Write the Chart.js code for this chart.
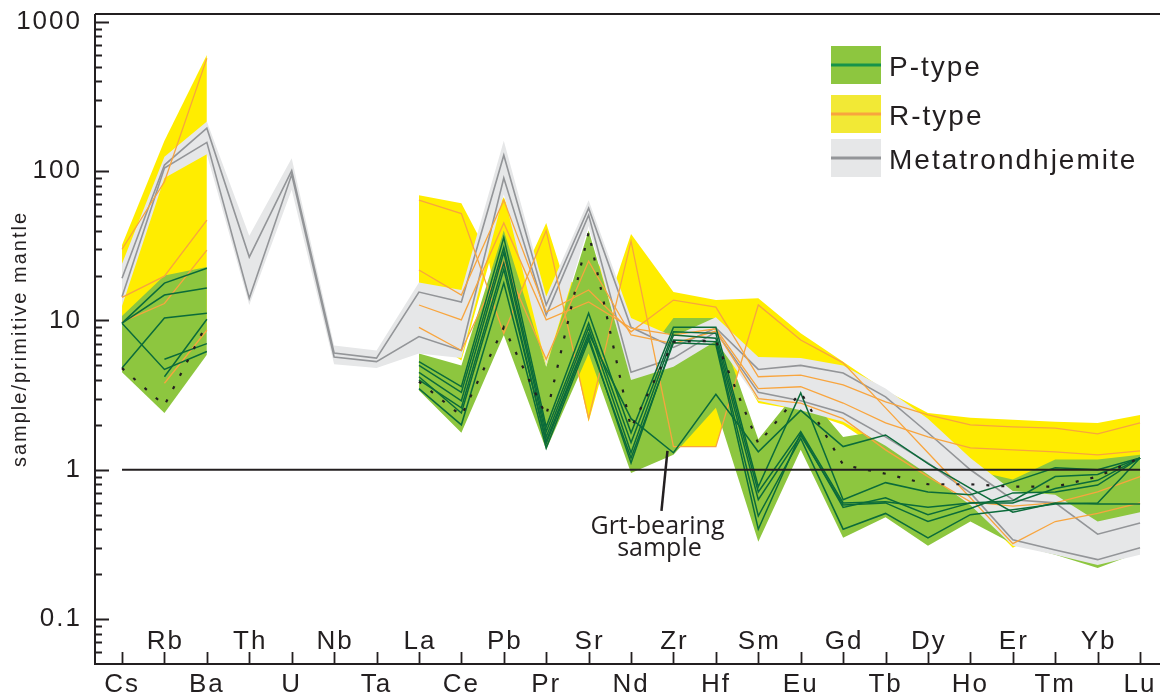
<!DOCTYPE html>
<html>
<head>
<meta charset="utf-8">
<script src="https://cdn.jsdelivr.net/npm/chart.js@4.4.1/dist/chart.umd.min.js"></script>
<style>
  html, body { margin: 0; padding: 0; background: #ffffff; }
  #wrap { width: 1160px; height: 696px; position: relative; }
</style>
</head>
<body>
<div id="wrap"><canvas id="spider" width="1160" height="696"></canvas></div>
<script>
// Element order along the x axis (primitive-mantle normalised spider diagram)
const elements = ['Cs','Rb','Ba','Th','U','Nb','Ta','La','Ce','Pb','Pr','Sr','Nd','Zr','Hf','Sm','Eu','Gd','Tb','Dy','Ho','Er','Tm','Yb','Lu'];
const yTickLabels = [0.1, 1, 10, 100, 1000];
const n = null;

// ---- P-type samples ----
const pType1 = [9.6,17.8,22.4,n,n,n,n, 5.3,3.6,36,1.94,11.2,1.77,9.0,9.0,0.77,3.27,0.63,0.82,0.71,0.68,0.83,1.03,1.0,1.2];
const pType2 = [9.6,14.8,16.5,n,n,n,n, 5.0,3.3,31,1.8,9.6,1.52,8.4,8.2,0.71,1.8,0.6,0.61,0.56,0.6,0.62,0.9,0.93,1.2];
const pType3 = [4.8,10.4,11.2,n,n,n,n, 4.5,2.9,28.6,1.66,8.9,1.3,8.0,7.6,0.63,1.7,0.58,0.6,0.45,0.55,0.7,0.71,0.79,1.2];
const pType4 = [9.6,4.7,6.2,n,n,n,n, 4.0,2.6,24.3,1.5,7.8,1.11,7.4,7.2,0.49,1.62,0.4,0.51,0.35,0.5,0.54,0.59,0.6,1.2];
const pType5 = [n,5.5,7.0,n,n,n,n, 3.5,2.0,17.8,1.4,7.4,1.2,7.1,6.9,0.4,1.75,0.56,0.65,0.5,0.6,0.6,0.75,0.85,1.2];
const pTypeGrt = [n,4.2,10.2,n,n,n,n, 4.2,2.4,22,1.55,8.2,2.2,1.3,3.2,1.32,2.5,1.43,1.71,1.1,0.75,0.52,0.6,0.59,0.59];
const pTypeDotted = [4.8,2.7,9.5,n,n,n,n, 3.9,2.3,9.0,2.3,39,1.9,7.2,7.3,1.5,3.3,1.08,0.94,0.8,0.8,0.77,0.77,0.9,1.2];
const pTypeUpper = [10.7,20,22.8,n,n,n,n, 6.0,5.0,40,4.9,40,4.3,10.4,10.4,1.6,3.6,1.66,1.85,1.36,1.0,0.86,1.17,1.17,1.26];
const pTypeLower = [4.5,2.4,5.9,n,n,n,n, 3.4,1.77,8.0,1.36,6.0,0.95,1.26,2.6,0.33,1.36,0.35,0.48,0.31,0.45,0.32,0.27,0.22,0.28];

// ---- R-type samples ----
const rType1 = [30,85,570,n,n,n,n, 64,52,8.2,40,2.2,34,1.43,1.43,12.7,7.4,5.2,2.6,1.3,0.65,0.32,0.45,0.51,0.6];
const rType2 = [14.3,19.8,47,n,n,n,n, 21.8,14.8,64,11.4,16,8.4,13.7,12.3,4.2,4.3,3.7,2.85,2.33,2.0,1.94,1.9,1.74,2.06];
const rType3 = [9.8,13,29.6,n,n,n,n, 12.7,10.1,45,10.1,13.3,8.9,8.0,8.8,3.5,3.6,2.8,2.06,1.66,1.4,1.36,1.32,1.26,1.34];
const rType4 = [n,3.8,8.6,n,n,n,n, 9,6.3,25,5.5,25,8,7,8.5,3.0,2.8,2.2,1.36,0.9,0.61,0.57,0.6,0.71,0.9];
const rTypeUpper = [32,160,600,n,n,n,n, 69,61,67,45,28,38,15.5,13.7,14.1,8.2,5.3,3.4,2.4,2.23,2.16,2.1,2.06,2.33];
const rTypeLower = [9.5,3.7,8.5,n,n,n,n, 8.5,5.4,7.8,5.0,2.1,7.5,1.43,1.43,2.8,2.5,2.0,1.3,0.85,0.58,0.3,0.42,0.48,0.57];
// envelope corners between elements, where crossing R-type patterns pinch the field: [position, value]
const rTypeUpperNotches = [[8.38,38],[9.62,26],[10.39,20],[10.62,18],[11.62,18]];
const rTypeLowerNotches = [[8.655,24.4],[9.36,14.6],[10.45,10.9],[11.57,8],[14.55,4.77]];

// ---- Metatrondhjemite ----
const meta1 = [19.2,110,194,26.6,101,6.06,5.6,15.5,13.3,128,12.7,56.5,9.0,6.6,8.9,4.7,5.0,4.45,3.08,1.77,1.0,0.63,0.60,0.37,0.44];
const meta2 = [14.4,105,156,14.1,95,5.7,5.3,7.8,6.3,90,10.9,50.8,4.5,5.6,8.4,3.3,2.9,2.4,1.66,1.11,0.70,0.34,0.29,0.25,0.30];
const metaUpper = [24,125,215,37,122,6.8,6.3,18,16,160,14.5,64,10.4,7.8,10.5,5.7,5.6,5.0,3.5,2.2,1.2,0.72,0.68,0.45,0.52];
const metaLower = [12.5,90,130,12.7,75,5.1,4.8,6.0,5.6,70,5.0,43,4.0,4.9,7.3,2.9,2.5,2.1,1.45,0.93,0.58,0.31,0.27,0.23,0.27];

// sample = primitive mantle
const unity = [1,1,1,1,1,1,1,1,1,1,1,1,1,1,1,1,1,1,1,1,1,1,1,1,1];

const COLORS = {
  pFill: '#8DC63F', pLine: '#0B6B3A', pLegendLine: '#16934A',
  rFill: '#FFED00', rLegendFill: '#F2E935', rLine: '#F8A53E',
  mFill: '#E6E7E8', mLine: '#939598',
  ink: '#231F20'
};

const toPoints = (arr, extra) => {
  const pts = arr.map((v, i) => ({ x: i, y: v }));
  (extra || []).forEach(([x, v]) => pts.push({ x: x, y: v }));
  return pts.sort((a, b) => a.x - b.x);
};

const datasets = [];
function addBand(lower, upper, color, order, lowerExtra, upperExtra) {
  const lowerIndex = datasets.length;
  datasets.push({ data: toPoints(lower, lowerExtra), borderColor: 'rgba(0,0,0,0)', borderWidth: 0,
    pointRadius: 0, fill: false, order: order, tension: 0 });
  datasets.push({ data: toPoints(upper, upperExtra), borderColor: 'rgba(0,0,0,0)', borderWidth: 0,
    pointRadius: 0, fill: lowerIndex, backgroundColor: color, order: order, tension: 0 });
}
function addLine(arr, color, width, order, dash) {
  datasets.push({ data: toPoints(arr), borderColor: color, borderWidth: width,
    pointRadius: 0, fill: false, order: order, tension: 0,
    borderDash: dash || [], borderCapStyle: 'butt', borderJoinStyle: 'miter' });
}

addBand(rTypeLower, rTypeUpper, COLORS.rFill, 30, rTypeLowerNotches, rTypeUpperNotches);
addBand(pTypeLower, pTypeUpper, COLORS.pFill, 20);
addBand(metaLower, metaUpper, COLORS.mFill, 10);

[meta1, meta2].forEach(s => addLine(s, COLORS.mLine, 1.6, 6));
[rType1, rType2, rType3, rType4].forEach(s => addLine(s, COLORS.rLine, 1.3, 5));
[pType1, pType2, pType3, pType4, pType5, pTypeGrt].forEach(s => addLine(s, COLORS.pLine, 1.5, 4));
addLine(pTypeDotted, COLORS.ink, 2.2, 3, [3, 12]);
addLine(unity, COLORS.ink, 2, 1);

// minor + major tick positions for the log axis
const yTickValues = [];
for (let d = -2; d <= 3; d++) {
  for (let m = 1; m <= 9; m++) {
    const v = parseFloat((m * Math.pow(10, d)).toPrecision(3));
    if (v >= 0.055 && v <= 1000) yTickValues.push(v);
  }
}

const FONT = "'Liberation Sans', Arial, Helvetica, sans-serif";
Chart.defaults.font.family = FONT;
Chart.defaults.color = COLORS.ink;

const framePlugin = {
  id: 'frame',
  beforeDraw(chart) {
    chart.ctx.letterSpacing = '2px';
  },
  afterDraw(chart) {
    const { ctx, chartArea: a, scales: { x, y } } = chart;
    ctx.save();
    ctx.strokeStyle = COLORS.ink;
    ctx.lineWidth = 2;
    ctx.beginPath();
    ctx.moveTo(a.left, a.top); ctx.lineTo(a.right, a.top);
    ctx.moveTo(a.left, a.top); ctx.lineTo(a.left, a.bottom);
    ctx.moveTo(a.left - 1, a.bottom); ctx.lineTo(a.right, a.bottom);
    ctx.stroke();
    // inward tick marks
    ctx.lineWidth = 1.8;
    ctx.beginPath();
    yTickValues.forEach(v => {
      const py = Math.round(y.getPixelForValue(v)) + 0.5;
      const len = yTickLabels.includes(v) ? 14 : 7;
      ctx.moveTo(a.left, py); ctx.lineTo(a.left + len, py);
    });
    elements.forEach((_, i) => {
      const px = Math.round(x.getPixelForValue(i)) + 0.5;
      ctx.moveTo(px, a.bottom); ctx.lineTo(px, a.bottom - 12);
    });
    ctx.stroke();

    // upper row of element names
    ctx.letterSpacing = '2px';
    ctx.fillStyle = COLORS.ink;
    ctx.font = '26px ' + FONT;
    ctx.textAlign = 'center';
    ctx.textBaseline = 'alphabetic';
    elements.forEach((el, i) => {
      if (i % 2 === 1) ctx.fillText(el, x.getPixelForValue(i) + 1, a.bottom - 15);
    });

    // legend
    const items = [
      { label: 'P-type', fill: COLORS.pFill, line: COLORS.pLegendLine },
      { label: 'R-type', fill: COLORS.rLegendFill, line: COLORS.rLine },
      { label: 'Metatrondhjemite', fill: COLORS.mFill, line: COLORS.mLine }
    ];
    const lx = 831, tops = [46, 95, 139];
    ctx.textAlign = 'left';
    items.forEach((it, k) => {
      const t = tops[k];
      ctx.fillStyle = it.fill;
      ctx.fillRect(lx, t, 50, 38);
      ctx.strokeStyle = it.line;
      ctx.lineWidth = 3;
      ctx.beginPath();
      ctx.moveTo(lx, t + 19); ctx.lineTo(lx + 50, t + 19);
      ctx.stroke();
      ctx.fillStyle = COLORS.ink;
      ctx.font = '28px ' + FONT;
      ctx.fillText(it.label, 889, t + 30);
    });

    // annotation for the garnet-bearing sample
    const zx = x.getPixelForValue(13), zy = y.getPixelForValue(pTypeGrt[13]);
    ctx.strokeStyle = COLORS.ink;
    ctx.lineWidth = 2.5;
    ctx.beginPath();
    ctx.moveTo(zx - 6, zy - 2); ctx.lineTo(zx - 12, zy + 58);
    ctx.stroke();
    ctx.letterSpacing = '0px';
    ctx.fillStyle = COLORS.ink;
    ctx.font = "25px 'Open Sans', 'Noto Sans', sans-serif";
    ctx.textAlign = 'center';
    ctx.fillText('Grt-bearing', zx - 16, zy + 81);
    ctx.fillText('sample', zx - 14, zy + 103);
    ctx.restore();
  }
};

new Chart(document.getElementById('spider'), {
  type: 'line',
  data: { datasets },
  options: {
    responsive: false,
    animation: false,
    devicePixelRatio: 1,
    layout: { padding: { top: 14, right: 0, bottom: 0, left: 0 } },
    plugins: {
      legend: { display: false },
      tooltip: { enabled: false },
      filler: { drawTime: 'beforeDatasetsDraw' }
    },
    scales: {
      x: {
        type: 'linear',
        min: -0.637,
        max: 24.47,
        afterBuildTicks: s => { s.ticks = elements.map((_, i) => ({ value: i })); },
        afterFit: s => { s.height = 32; s.paddingLeft = 0; s.paddingRight = 0; },
        grid: { display: false },
        border: { display: false },
        ticks: {
          autoSkip: false, maxRotation: 0, padding: -3,
          font: { size: 26 }, color: COLORS.ink,
          callback: v => (v % 2 === 0 ? elements[v] : '')
        }
      },
      y: {
        type: 'logarithmic',
        min: 0.05,
        max: 1130,
        afterBuildTicks: s => { s.ticks = yTickValues.map(v => ({ value: v })); },
        afterFit: s => { s.width = 95; s.paddingTop = 0; s.paddingBottom = 0; },
        grid: { display: false },
        border: { display: false },
        title: { display: true, text: 'sample/primitive mantle', font: { size: 20 }, color: COLORS.ink, padding: { top: 8, bottom: 0 } },
        ticks: {
          autoSkip: false, padding: 5,
          font: { size: 26 }, color: COLORS.ink,
          callback: v => (yTickLabels.includes(v) ? String(v) : '')
        }
      }
    }
  },
  plugins: [framePlugin]
});
</script>
</body>
</html>
